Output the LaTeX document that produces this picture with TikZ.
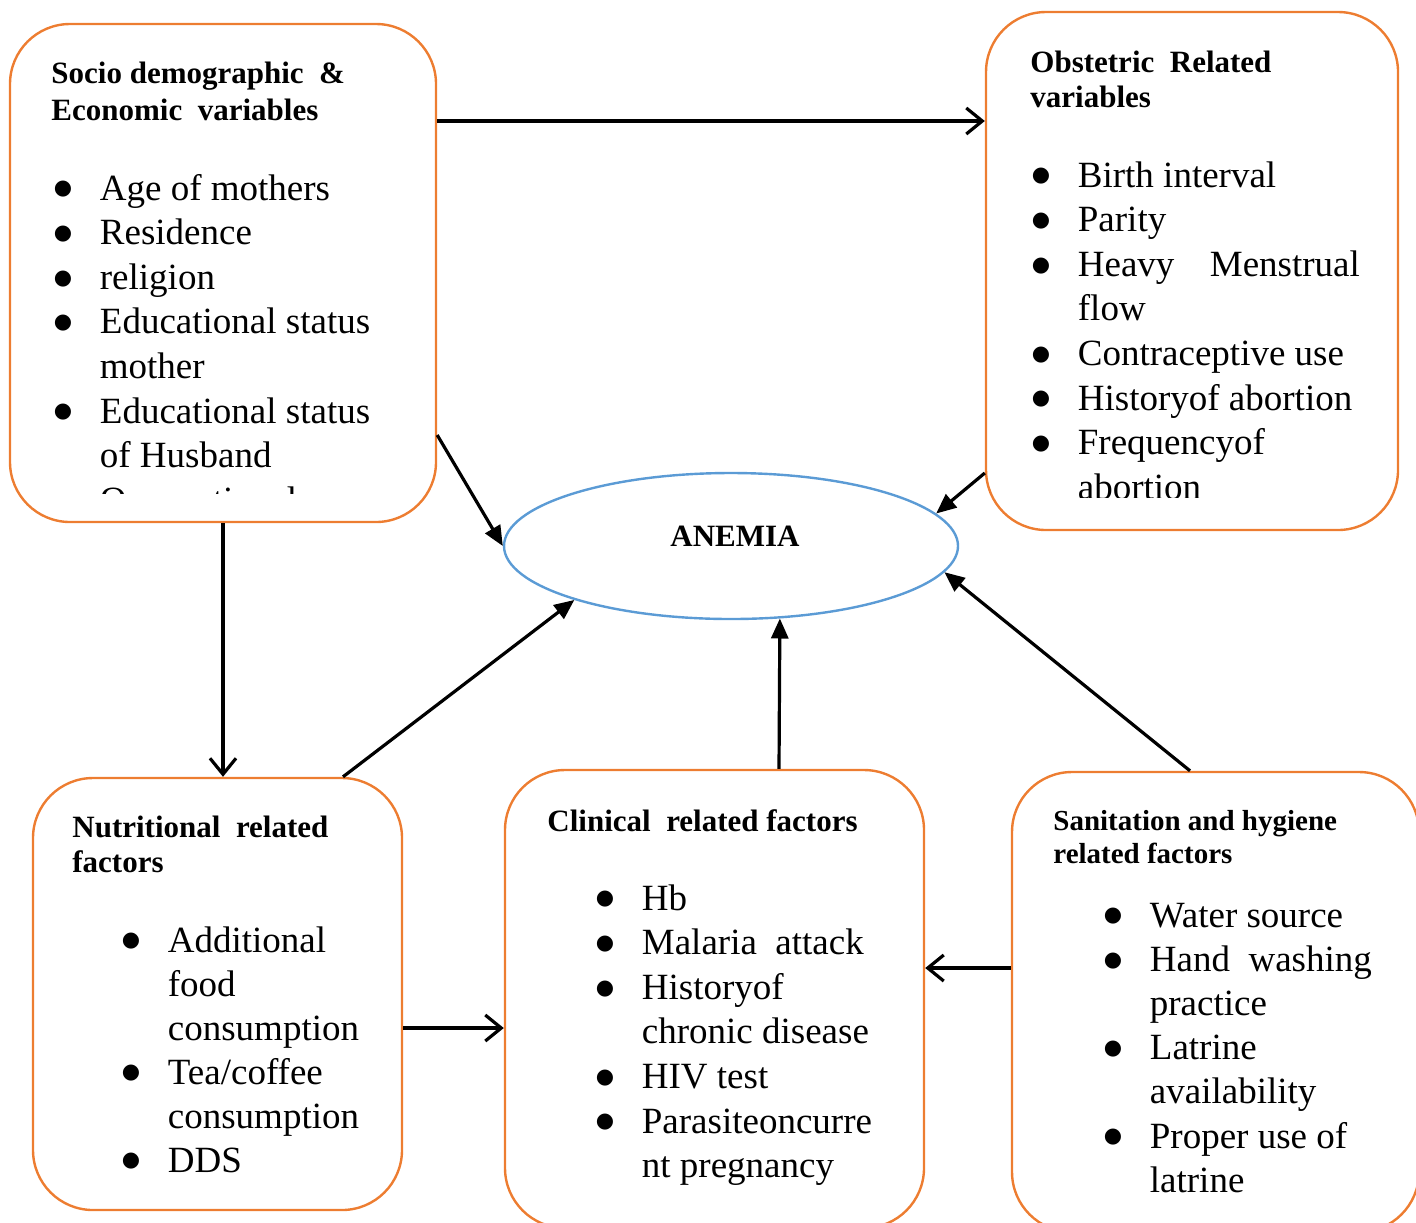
\documentclass[tikz,border=0pt]{standalone}
\usepackage{fontspec}
\setmainfont{Liberation Serif}
\newfontfamily\dotfont{DejaVu Sans}
\usepackage{array}
\usepackage{tikz}
\usetikzlibrary{arrows.meta}
\usetikzlibrary{shapes.geometric}
\definecolor{boxorange}{RGB}{237,125,49}
\definecolor{ellblue}{RGB}{91,155,213}
\tikzset{
  factorbox/.style={draw=boxorange, line width=1.2pt, rounded corners=30pt, inner sep=0pt},
  outcome/.style={draw=ellblue, line width=1.2pt, ellipse, inner sep=0pt},
  heading/.style={anchor=base west, inner sep=0pt, font=\fontsize{15.5}{17.5}\selectfont\bfseries},
  itemlist/.style={anchor=base west, inner sep=0pt, font=\fontsize{18.5}{22.3}\selectfont},
  openarrow/.style={-{Straight Barb[length=8pt, width=13pt]}, line width=1.6pt},
  fillarrow/.style={-{Triangle[length=10pt, width=8.5pt]}, line width=1.6pt}
}
\newcommand{\listdot}{\raisebox{2.6pt}{\dotfont\fontsize{10.5}{10.5}\selectfont ●}}
\newcommand{\factorlist}[1]{\begin{tabular}[t]{@{}p{23pt}@{}l@{}}#1\end{tabular}}
\newcommand{\headlines}[1]{\begin{tabular}[t]{@{}l@{}}#1\end{tabular}}

\begin{document}
\begin{tikzpicture}[x=0.5pt, y=-0.5pt]
    % Fix the page size.
    \useasboundingbox (0,0) rectangle (1416,1222);

    % Draw the factor boxes.
    \node[factorbox, minimum width=213pt, minimum height=249pt] (socio) at (223,273) {};
    \node[factorbox, minimum width=206pt, minimum height=259pt] (obst) at (1192,271) {};
    \node[factorbox, minimum width=184.5pt, minimum height=216pt] (nutr) at (217.5,994) {};
    \node[factorbox, minimum width=209.5pt, minimum height=229pt] (clin) at (714.5,999) {};
    \node[factorbox, minimum width=203.5pt, minimum height=230pt] (sanit) at (1215.5,1002) {};

    % Draw the outcome.
    \node[outcome, minimum width=227pt, minimum height=73pt] (anemia) at (731,546) {};
    \node[inner sep=0pt, font=\fontsize{15.5}{17}\selectfont\bfseries] (anemialabel) at (735,536) {ANEMIA};

    % Socio demographic box.
    \node[heading, font=\fontsize{15.5}{18.5}\selectfont\bfseries] (sociohead) at (51,83)
      {\headlines{Socio demographic \ \&\\Economic \ variables}};
    \begin{scope}
      \clip (10,24) rectangle (436,493);
      \node[itemlist] (sociolist) at (53.5,200) {\factorlist{
        \listdot & Age of mothers\\
        \listdot & Residence\\
        \listdot & religion\\
        \listdot & Educational status\\
                 & mother\\
        \listdot & Educational status\\
                 & of Husband\\
                 & Occupational\\}};
    \end{scope}

    % Obstetric box.
    \node[heading] (obsthead) at (1030,72)
      {\headlines{Obstetric \ Related\\variables}};
    \begin{scope}
      \clip (986,12) rectangle (1398,497);
      \node[itemlist] (obstlist) at (1031.5,187) {\factorlist{
        \listdot & Birth interval\\
        \listdot & Parity\\
        \listdot & \makebox[141pt][s]{Heavy Menstrual}\\
                 & flow\\
        \listdot & Contraceptive use\\
        \listdot & Historyof abortion\\
        \listdot & Frequencyof\\
                 & abortion\\}};
    \end{scope}

    % Nutritional box.
    \node[heading] (nutrhead) at (72,837)
      {\headlines{Nutritional \ related\\factors}};
    \node[itemlist, font=\fontsize{18.5}{22}\selectfont] (nutrlist) at (121.5,952) {\factorlist{
        \listdot & Additional\\
                 & food\\
                 & consumption\\
        \listdot & Tea/coffee\\
                 & consumption\\
        \listdot & DDS\\}};

    % Clinical box.
    \node[heading] (clinhead) at (547,831)
      {\headlines{Clinical \ related factors}};
    \node[itemlist] (clinlist) at (595.5,910) {\factorlist{
        \listdot & Hb\\
        \listdot & Malaria \ attack\\
        \listdot & Historyof\\
                 & chronic disease\\
        \listdot & HIV test\\
        \listdot & Parasiteoncurre\\
                 & nt pregnancy\\}};

    % Sanitation box.
    \node[heading, font=\fontsize{14.5}{16.5}\selectfont\bfseries] (sanithead) at (1053,830)
      {\headlines{Sanitation and hygiene\\related factors}};
    \node[itemlist, font=\fontsize{18.5}{22.1}\selectfont] (sanitlist) at (1103.5,927) {\factorlist{
        \listdot & Water source\\
        \listdot & Hand \ washing\\
                 & practice\\
        \listdot & Latrine\\
                 & availability\\
        \listdot & Proper use of\\
                 & latrine\\}};

    % Draw the links between boxes.
    \draw[openarrow] (socio.east |- 0,121) -- (obst.west |- 0,121);
    \draw[openarrow] (socio.south) -- (nutr.north -| socio.south);
    \draw[openarrow] (nutr.east |- 0,1028) -- (clin.west |- 0,1028);
    \draw[openarrow] (sanit.west |- 0,968) -- (clin.east |- 0,968);

    % Draw the links into the outcome.
    \draw[fillarrow] (socio.east |- 0,435) -- (anemia.west);
    \draw[fillarrow] (obst.west |- 0,473) -- (anemia.9);
    \draw[fillarrow] (nutr.north -| 343,0) -- (anemia.199);
    \draw[fillarrow] (clin.north -| 779,0) -- (anemia.-56);
    \draw[fillarrow] (sanit.north -| 1190,0) -- (anemia.-7);
\end{tikzpicture}
\end{document}
